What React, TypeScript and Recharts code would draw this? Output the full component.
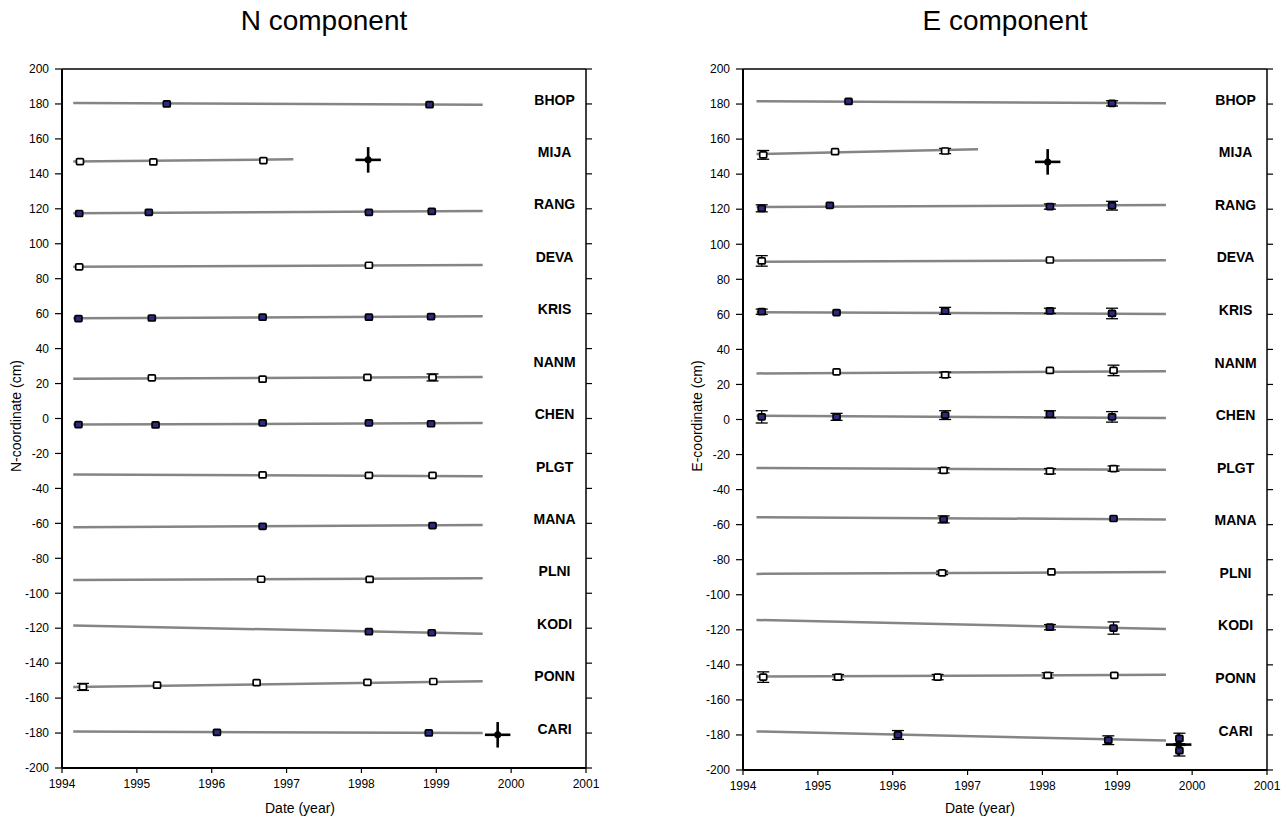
import { ComposedChart, XAxis, YAxis, Scatter, ErrorBar, ReferenceLine } from 'recharts'

type Pt = { x: number; y: number; e: number }
type Cross = { x: number; y: number; ex: number; ey: number }
type Trend = [number, number, number, number]

const years = [1994, 1995, 1996, 1997, 1998, 1999, 2000, 2001]
const cmTicks = [-200, -180, -160, -140, -120, -100, -80, -60, -40, -20, 0, 20, 40, 60, 80, 100, 120, 140, 160, 180, 200]

const stations = ['BHOP', 'MIJA', 'RANG', 'DEVA', 'KRIS', 'NANM', 'CHEN', 'PLGT', 'MANA', 'PLNI', 'KODI', 'PONN', 'CARI']
const stationLabelY = [182.5, 152.5, 122.5, 92.5, 62.5, 32.5, 2.5, -27.5, -57.5, -87.5, -117.5, -147.5, -177.5]
const labelYear = 2000.58

// N component: fitted trend per station [x0, y0, x1, y1]
const nTrends: Trend[] = [
  [1994.15, 180.5, 1999.62, 179.5],
  [1994.15, 147, 1997.09, 148.3],
  [1994.15, 117.4, 1999.62, 118.7],
  [1994.15, 86.8, 1999.62, 87.9],
  [1994.15, 57.3, 1999.62, 58.5],
  [1994.15, 22.8, 1999.62, 23.7],
  [1994.15, -3.5, 1999.62, -2.6],
  [1994.15, -32, 1999.62, -33],
  [1994.15, -62.2, 1999.62, -61],
  [1994.15, -92.4, 1999.62, -91.4],
  [1994.15, -118.4, 1999.62, -123.2],
  [1994.15, -153.6, 1999.62, -150.4],
  [1994.15, -179.1, 1999.62, -180],
]

const nFilled: Pt[] = [
  { x: 1995.4, y: 180, e: 0 }, { x: 1998.91, y: 179.6, e: 0 },
  { x: 1994.23, y: 117.3, e: 0 }, { x: 1995.16, y: 118, e: 0 }, { x: 1998.1, y: 118, e: 0 }, { x: 1998.94, y: 118.5, e: 0 },
  { x: 1994.22, y: 57.2, e: 0 }, { x: 1995.2, y: 57.5, e: 0 }, { x: 1996.68, y: 58, e: 0 }, { x: 1998.1, y: 58, e: 0 }, { x: 1998.93, y: 58.3, e: 0 },
  { x: 1994.22, y: -3.5, e: 0 }, { x: 1995.25, y: -3.7, e: 0 }, { x: 1996.68, y: -2.5, e: 0 }, { x: 1998.1, y: -2.5, e: 0 }, { x: 1998.93, y: -3, e: 0 },
  { x: 1996.68, y: -61.7, e: 0 }, { x: 1998.95, y: -61.3, e: 0 },
  { x: 1998.1, y: -122, e: 0 }, { x: 1998.94, y: -122.6, e: 0 },
  { x: 1996.07, y: -179.6, e: 0 }, { x: 1998.9, y: -179.9, e: 0 },
]

const nOpen: Pt[] = [
  { x: 1994.24, y: 147, e: 0 }, { x: 1995.22, y: 146.8, e: 0 }, { x: 1996.69, y: 147.6, e: 0 },
  { x: 1994.23, y: 86.8, e: 0 }, { x: 1998.1, y: 87.7, e: 0 },
  { x: 1995.2, y: 23.3, e: 0 }, { x: 1996.68, y: 22.5, e: 0 }, { x: 1998.08, y: 23.5, e: 0 }, { x: 1998.95, y: 23.5, e: 2 },
  { x: 1996.68, y: -32.3, e: 0 }, { x: 1998.1, y: -32.5, e: 0 }, { x: 1998.95, y: -32.5, e: 0 },
  { x: 1996.66, y: -92, e: 0 }, { x: 1998.11, y: -92.1, e: 0 },
  { x: 1994.28, y: -153.6, e: 2 }, { x: 1995.27, y: -152.6, e: 0 }, { x: 1996.6, y: -151.2, e: 0 }, { x: 1998.08, y: -151, e: 0 }, { x: 1998.96, y: -150.5, e: 0 },
]

const nCross: Cross[] = [
  { x: 1998.09, y: 148, ex: 0.17, ey: 7.3 },
  { x: 1999.82, y: -181, ex: 0.17, ey: 7.3 },
]

// E component
const eTrends: Trend[] = [
  [1994.18, 181.6, 1999.65, 180.5],
  [1994.18, 151.5, 1997.14, 154.2],
  [1994.18, 121.2, 1999.65, 122.4],
  [1994.18, 90, 1999.65, 90.9],
  [1994.18, 61.2, 1999.65, 60.2],
  [1994.18, 26.3, 1999.65, 27.5],
  [1994.18, 2.2, 1999.65, 0.8],
  [1994.18, -27.7, 1999.65, -28.7],
  [1994.18, -55.8, 1999.65, -57],
  [1994.18, -88.1, 1999.65, -87],
  [1994.18, -114.4, 1999.65, -119.6],
  [1994.18, -146.7, 1999.65, -145.7],
  [1994.18, -178, 1999.65, -183.2],
]

const eFilled: Pt[] = [
  { x: 1995.41, y: 181.5, e: 0 }, { x: 1998.93, y: 180.4, e: 1.5 },
  { x: 1994.25, y: 120.5, e: 2 }, { x: 1995.16, y: 122.2, e: 0 }, { x: 1998.1, y: 121.5, e: 1.5 }, { x: 1998.93, y: 122, e: 2.5 },
  { x: 1994.25, y: 61.5, e: 1.5 }, { x: 1995.25, y: 61, e: 0 }, { x: 1996.7, y: 62, e: 2 }, { x: 1998.1, y: 62, e: 1.5 }, { x: 1998.93, y: 60.5, e: 3 },
  { x: 1994.25, y: 1.5, e: 3.5 }, { x: 1995.25, y: 1.5, e: 2 }, { x: 1996.7, y: 2.5, e: 2.5 }, { x: 1998.1, y: 3, e: 2 }, { x: 1998.93, y: 1.5, e: 3 },
  { x: 1996.68, y: -57, e: 2 }, { x: 1998.95, y: -56.5, e: 0 },
  { x: 1998.1, y: -118.5, e: 1.5 }, { x: 1998.95, y: -119, e: 3.5 },
  { x: 1996.07, y: -180, e: 2.5 }, { x: 1998.88, y: -183, e: 2.5 }, { x: 1999.83, y: -182, e: 3 }, { x: 1999.83, y: -189, e: 3 },
]

const eOpen: Pt[] = [
  { x: 1994.27, y: 151, e: 2.5 }, { x: 1995.23, y: 152.8, e: 0 }, { x: 1996.7, y: 153.2, e: 1.5 },
  { x: 1994.25, y: 90.5, e: 3 }, { x: 1998.1, y: 91, e: 0 },
  { x: 1995.25, y: 27.2, e: 0 }, { x: 1996.7, y: 25.5, e: 1.5 }, { x: 1998.1, y: 28, e: 0 }, { x: 1998.95, y: 28, e: 3 },
  { x: 1996.68, y: -29, e: 1.5 }, { x: 1998.1, y: -29.5, e: 1.5 }, { x: 1998.95, y: -28, e: 1.5 },
  { x: 1996.66, y: -87.5, e: 1 }, { x: 1998.12, y: -87, e: 0 },
  { x: 1994.27, y: -147, e: 3 }, { x: 1995.27, y: -147, e: 1.5 }, { x: 1996.6, y: -147, e: 1.5 }, { x: 1998.07, y: -146, e: 1.5 }, { x: 1998.96, y: -146, e: 0 },
]

const eCross: Cross[] = [
  { x: 1998.07, y: 147, ex: 0.17, ey: 7.3 },
  { x: 1999.82, y: -185.5, ex: 0.17, ey: 6.5 },
]

const FONT = '"Liberation Sans", Arial, Helvetica, sans-serif'
const labels = stations.map((name, i) => ({ x: labelYear, y: stationLabelY[i], name }))

const square = (fill: string) => (p: any) => (
  <rect x={p.cx - 3.5} y={p.cy - 3} width={7} height={6} rx={1} fill={fill} stroke="#000" strokeWidth={1.7} />
)

type PanelProps = {
  left: number
  width: number
  margin: { top: number; right: number; bottom: number; left: number }
  trends: Trend[]
  filled: Pt[]
  open: Pt[]
  crosses: Cross[]
}

function Panel({ left, width, margin, trends, filled, open, crosses }: PanelProps) {
  const tickStyle = { fontSize: 12, fill: '#000', fontFamily: FONT }
  return (
    <div style={{ position: 'absolute', left, top: 0 }}>
      <ComposedChart width={width} height={819} margin={margin}>
        <XAxis
          type="number" dataKey="x" domain={[1994, 2001]} ticks={years} allowDataOverflow
          height={30} tickSize={5} tickMargin={6} tick={tickStyle}
          axisLine={{ stroke: '#000', strokeWidth: 2 }} tickLine={{ stroke: '#000', strokeWidth: 1.2 }}
        />
        <XAxis
          xAxisId="top" orientation="top" type="number" domain={[1994, 2001]} ticks={years} allowDataOverflow
          height={5} tickSize={6} tickFormatter={() => ''}
          axisLine={{ stroke: '#000', strokeWidth: 1.5 }} tickLine={{ stroke: '#000', strokeWidth: 1.2 }}
        />
        <YAxis
          type="number" dataKey="y" domain={[-200, 200]} ticks={cmTicks} allowDataOverflow interval={0}
          width={50} tickSize={7} tickMargin={6} tick={tickStyle}
          axisLine={{ stroke: '#000', strokeWidth: 2 }} tickLine={{ stroke: '#000', strokeWidth: 1.2 }}
        />
        <YAxis
          yAxisId="right" orientation="right" type="number" domain={[-200, 200]} ticks={cmTicks} allowDataOverflow interval={0}
          width={10} tickSize={6} tickFormatter={() => ''}
          axisLine={{ stroke: '#000', strokeWidth: 1.5 }} tickLine={{ stroke: '#000', strokeWidth: 1.2 }}
        />
        {trends.map((t, i) => (
          <ReferenceLine
            key={`trend-${i}`}
            segment={[{ x: t[0], y: t[1] }, { x: t[2], y: t[3] }]}
            stroke="#858585" strokeWidth={2.5} ifOverflow="visible"
          />
        ))}
        <Scatter data={open} shape={square('#ffffff')} isAnimationActive={false}>
          <ErrorBar dataKey="e" direction="y" width={6} stroke="#000" strokeWidth={1.3} />
        </Scatter>
        <Scatter data={filled} shape={square('#2d2b80')} isAnimationActive={false}>
          <ErrorBar dataKey="e" direction="y" width={6} stroke="#000" strokeWidth={1.3} />
        </Scatter>
        <Scatter
          data={crosses}
          shape={(p: any) => <circle cx={p.cx} cy={p.cy} r={3.5} fill="#000" />}
          isAnimationActive={false}
        >
          <ErrorBar dataKey="ex" direction="x" width={0} stroke="#000" strokeWidth={2.6} />
          <ErrorBar dataKey="ey" direction="y" width={0} stroke="#000" strokeWidth={2.6} />
        </Scatter>
        <Scatter
          data={labels}
          isAnimationActive={false}
          shape={(p: any) => (
            <text x={p.cx} y={p.cy} textAnchor="middle" dominantBaseline="central"
              fontFamily={FONT} fontWeight="bold" fontSize={14} fill="#000">
              {p.payload.name}
            </text>
          )}
        />
      </ComposedChart>
    </div>
  )
}

const textBase: React.CSSProperties = { position: 'absolute', fontFamily: FONT, color: '#000', whiteSpace: 'nowrap', lineHeight: 1 }

export default function App() {
  return (
    <div style={{ position: 'absolute', left: 0, top: 0, width: 1287, height: 819, background: '#fff', overflow: 'hidden' }}>
      <Panel left={0} width={640} margin={{ top: 64, right: 44, bottom: 21, left: 12 }}
        trends={nTrends} filled={nFilled} open={nOpen} crosses={nCross} />
      <Panel left={640} width={647} margin={{ top: 64, right: 10, bottom: 19, left: 53 }}
        trends={eTrends} filled={eFilled} open={eOpen} crosses={eCross} />

      <div style={{ ...textBase, left: 324, top: 21, fontSize: 28, transform: 'translate(-50%, -50%)' }}>N component</div>
      <div style={{ ...textBase, left: 1005, top: 21, fontSize: 28, transform: 'translate(-50%, -50%)' }}>E component</div>

      <div style={{ ...textBase, left: 300, top: 808, fontSize: 14, transform: 'translate(-50%, -50%)' }}>Date (year)</div>
      <div style={{ ...textBase, left: 980, top: 808, fontSize: 14, transform: 'translate(-50%, -50%)' }}>Date (year)</div>

      <div style={{ ...textBase, left: 16, top: 416, fontSize: 14, transform: 'translate(-50%, -50%) rotate(-90deg)' }}>N-coordinate (cm)</div>
      <div style={{ ...textBase, left: 697, top: 416, fontSize: 14, transform: 'translate(-50%, -50%) rotate(-90deg)' }}>E-coordinate (cm)</div>
    </div>
  )
}
